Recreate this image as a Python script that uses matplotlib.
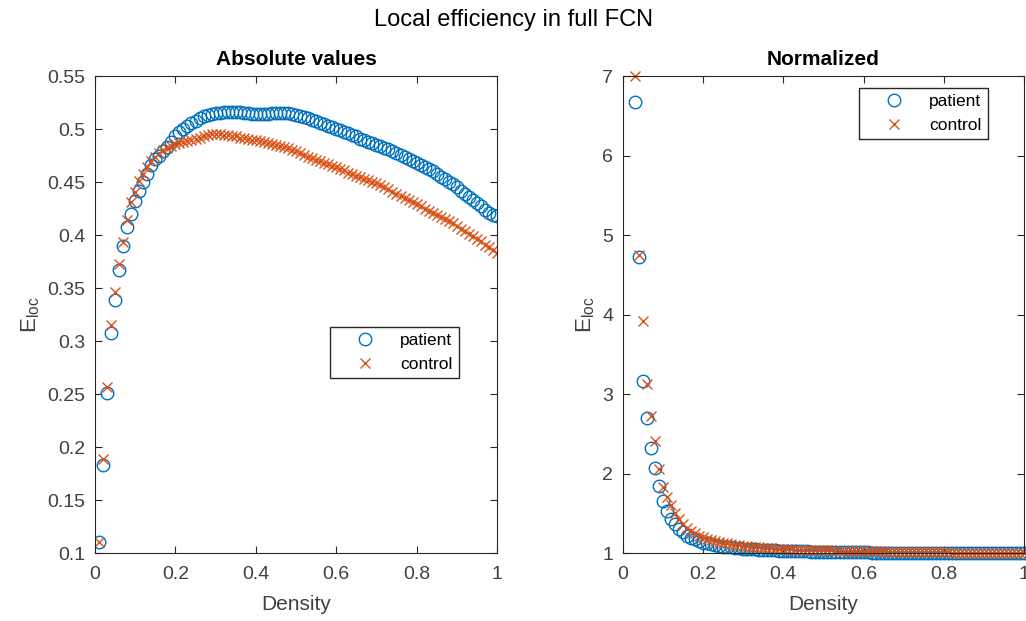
import numpy as np
import matplotlib
matplotlib.use('Agg')
import matplotlib.pyplot as plt

plt.rcParams['font.family'] = ['Liberation Sans', 'DejaVu Sans']

# densidade de 0.01 a 1.00
densidade = [round(0.01 * i, 2) for i in range(1, 101)]

# valores absolutos
pac_abs = [0.110, 0.183, 0.251, 0.308, 0.339, 0.367, 0.390, 0.408, 0.420, 0.432,
           0.442, 0.450, 0.458, 0.466, 0.472, 0.475, 0.479, 0.483, 0.488, 0.493,
           0.497, 0.500, 0.503, 0.506, 0.508, 0.510, 0.512, 0.513, 0.514, 0.515,
           0.515, 0.516, 0.516, 0.516, 0.516, 0.516, 0.515, 0.515, 0.514, 0.514,
           0.514, 0.514, 0.514, 0.515, 0.515, 0.515, 0.515, 0.515, 0.514, 0.513,
           0.512, 0.511, 0.510, 0.509, 0.508, 0.506, 0.505, 0.503, 0.502, 0.500,
           0.499, 0.497, 0.496, 0.494, 0.493, 0.491, 0.490, 0.488, 0.487, 0.485,
           0.484, 0.482, 0.481, 0.479, 0.477, 0.476, 0.474, 0.472, 0.470, 0.468,
           0.466, 0.464, 0.462, 0.460, 0.458, 0.455, 0.453, 0.450, 0.448, 0.445,
           0.442, 0.439, 0.436, 0.433, 0.430, 0.427, 0.424, 0.421, 0.419, 0.418]
ctl_abs = [0.110, 0.189, 0.257, 0.315, 0.346, 0.373, 0.393, 0.414, 0.431, 0.441,
           0.451, 0.458, 0.464, 0.470, 0.474, 0.477, 0.480, 0.482, 0.484, 0.486,
           0.487, 0.488, 0.489, 0.490, 0.491, 0.492, 0.493, 0.494, 0.495, 0.495,
           0.495, 0.494, 0.494, 0.493, 0.493, 0.492, 0.492, 0.491, 0.490, 0.490,
           0.489, 0.488, 0.487, 0.486, 0.485, 0.484, 0.483, 0.482, 0.480, 0.479,
           0.477, 0.476, 0.474, 0.473, 0.471, 0.470, 0.468, 0.467, 0.465, 0.464,
           0.462, 0.461, 0.459, 0.458, 0.456, 0.455, 0.453, 0.452, 0.450, 0.449,
           0.447, 0.445, 0.443, 0.441, 0.439, 0.437, 0.435, 0.433, 0.431, 0.429,
           0.427, 0.425, 0.423, 0.421, 0.419, 0.417, 0.415, 0.413, 0.411, 0.409,
           0.406, 0.404, 0.401, 0.399, 0.396, 0.394, 0.391, 0.389, 0.386, 0.383]

# valores normalizados (a partir de densidade 0.03)
pac_norm = [6.68, 4.72, 3.16, 2.70, 2.32, 2.07, 1.84, 1.66,
            1.53, 1.43, 1.36, 1.30, 1.26, 1.22, 1.19, 1.17, 1.15, 1.13,
            1.12, 1.11, 1.10, 1.09, 1.08, 1.075, 1.07, 1.065, 1.06, 1.055,
            1.05, 1.048, 1.045, 1.042, 1.04, 1.038, 1.035, 1.033, 1.03, 1.028,
            1.026, 1.025, 1.023, 1.022, 1.02, 1.019, 1.018, 1.017, 1.016, 1.015,
            1.014, 1.013, 1.012, 1.011, 1.010, 1.009, 1.009, 1.008, 1.008, 1.007,
            1.007, 1.006, 1.006, 1.005, 1.005, 1.005, 1.004, 1.004, 1.004, 1.003,
            1.003, 1.003, 1.003, 1.002, 1.002, 1.002, 1.002, 1.002, 1.001, 1.001,
            1.001, 1.001, 1.001, 1.001, 1.001, 1.001, 1.001, 1.001, 1.001, 1.001,
            1.001, 1.001, 1.000, 1.000, 1.000, 1.000, 1.000, 1.000, 1.000, 1.000]
ctl_norm = [7.00, 4.75, 3.92, 3.12, 2.72, 2.41, 2.06, 1.83,
            1.70, 1.60, 1.50, 1.43, 1.37, 1.32, 1.28, 1.25, 1.22, 1.20,
            1.18, 1.16, 1.15, 1.14, 1.13, 1.12, 1.11, 1.10, 1.095, 1.09,
            1.085, 1.08, 1.075, 1.07, 1.066, 1.062, 1.058, 1.055, 1.052, 1.05,
            1.048, 1.046, 1.044, 1.042, 1.04, 1.038, 1.037, 1.036, 1.035, 1.034,
            1.033, 1.032, 1.031, 1.030, 1.029, 1.028, 1.027, 1.026, 1.025, 1.024,
            1.023, 1.022, 1.021, 1.020, 1.019, 1.018, 1.017, 1.016, 1.015, 1.014,
            1.013, 1.012, 1.012, 1.011, 1.010, 1.010, 1.009, 1.008, 1.008, 1.007,
            1.007, 1.006, 1.006, 1.005, 1.005, 1.004, 1.004, 1.003, 1.003, 1.003,
            1.002, 1.002, 1.002, 1.001, 1.001, 1.001, 1.001, 1.000, 1.000, 1.000]

azul = '#0072BD'
laranja = '#D95319'
cinza = '#262626'
cinza_txt = '#404040'

fig = plt.figure(figsize=(10.26, 6.21), dpi=100)
ax1 = fig.add_axes([0.0926, 0.1095, 0.3918, 0.768])
ax2 = fig.add_axes([0.6072, 0.1095, 0.3908, 0.768])

def estilo(ax):
    ax.tick_params(direction='in', top=True, right=True, length=5, width=0.8,
                   labelsize=14, colors=cinza, labelcolor=cinza_txt)
    ax.tick_params(axis='x', pad=9)
    ax.tick_params(axis='y', pad=7)
    for s in ax.spines.values():
        s.set_color(cinza)
        s.set_linewidth(0.8)
    ax.set_xlim(0, 1)
    ax.set_xticks([0, 0.2, 0.4, 0.6, 0.8, 1])
    ax.set_xticklabels(['0', '0.2', '0.4', '0.6', '0.8', '1'])
    ax.set_xlabel('Density', fontsize=15, color=cinza_txt, labelpad=9)
    ax.set_ylabel(r'$\mathregular{E_{loc}}$', fontsize=16, color=cinza_txt, labelpad=4)

def legenda(ax, canto):
    ax.legend(loc='upper right', bbox_to_anchor=canto, borderaxespad=0, fontsize=12.5,
              fancybox=False, edgecolor=cinza, framealpha=1, borderpad=0.35,
              handlelength=3.3, handletextpad=0.4, labelcolor='black')

ax1.plot(densidade, pac_abs, 'o', mfc='none', mec=azul, ms=9, mew=1, label='patient')
ax1.plot(densidade, ctl_abs, 'x', color=laranja, ms=7, mew=1, label='control')
estilo(ax1)
ax1.set_ylim(0.1, 0.55)
ax1.set_yticks([0.1, 0.15, 0.2, 0.25, 0.3, 0.35, 0.4, 0.45, 0.5, 0.55])
ax1.set_yticklabels(['0.1', '0.15', '0.2', '0.25', '0.3', '0.35', '0.4', '0.45', '0.5', '0.55'])
ax1.set_title('Absolute values', fontsize=15, fontweight='bold', color='black', pad=8)
legenda(ax1, (0.905, 0.474))

ax2.plot(densidade[2:], pac_norm, 'o', mfc='none', mec=azul, ms=9, mew=1, label='patient',
         clip_on=False)
ax2.plot(densidade[2:], ctl_norm, 'x', color=laranja, ms=7, mew=1, label='control',
         clip_on=False)
estilo(ax2)
ax2.set_ylim(1, 7)
ax2.set_yticks([1, 2, 3, 4, 5, 6, 7])
ax2.set_title('Normalized', fontsize=15, fontweight='bold', color='black', pad=8)
legenda(ax2, (0.910, 0.975))

fig.suptitle('Local efficiency in full FCN', fontsize=17, y=0.985)

fig.savefig('out.png', dpi=100)
